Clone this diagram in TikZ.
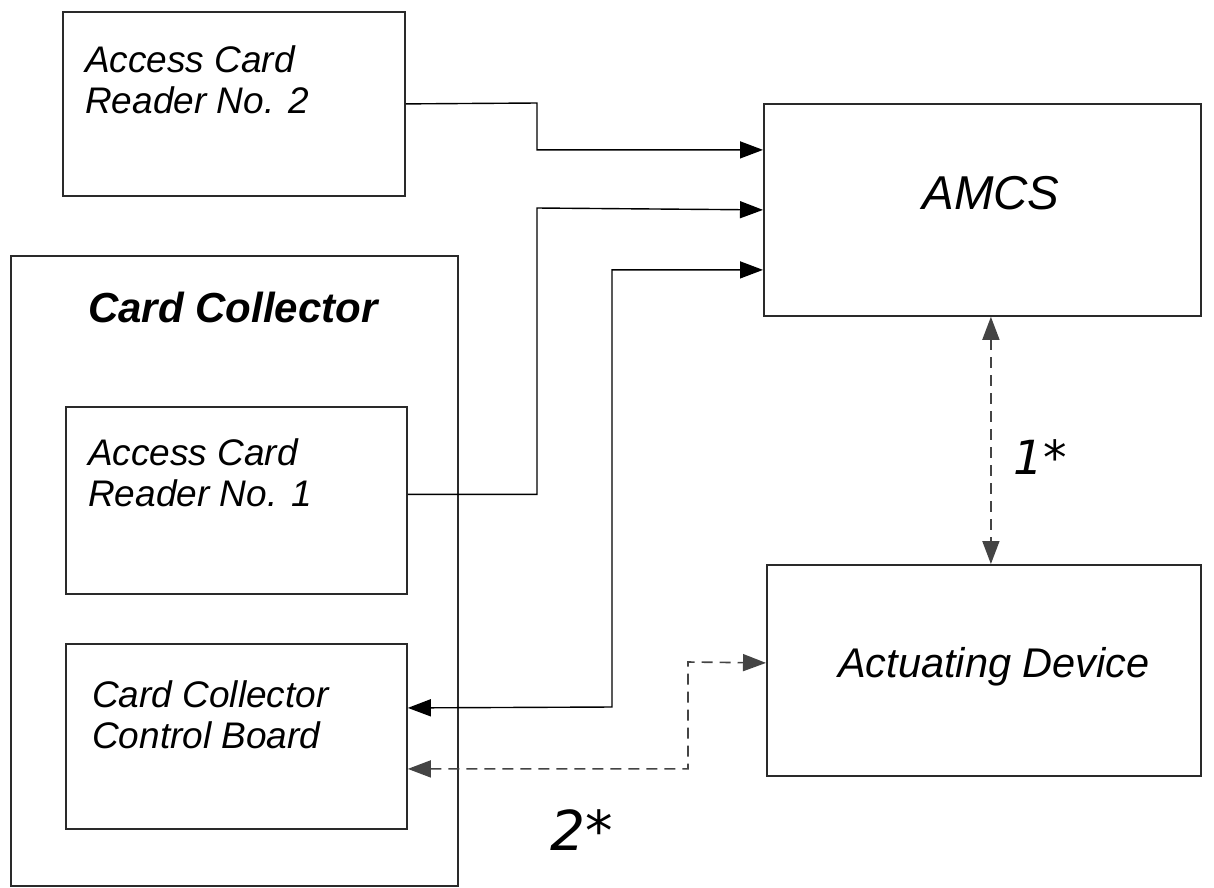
\documentclass[tikz,border=0pt]{standalone}
\usepackage{fontspec}
\setmainfont{Liberation Sans}
\newfontfamily\labelfont{DejaVu Sans}
\usetikzlibrary{arrows.meta}
\definecolor{boxcol}{HTML}{2A2A2A}
\definecolor{dashcol}{HTML}{444444}
\tikzset{
  tip/.tip={Triangle[length=23pt,width=17pt]},
  box/.style={draw=boxcol, line width=1.8pt, inner sep=0pt},
  outerbox/.style={draw=boxcol, line width=2.4pt, inner sep=0pt},
  conn/.style={draw=black, line width=1.4pt, -tip},
  dconn/.style={draw=dashcol, line width=1.6pt, dash pattern=on 11pt off 7pt, tip-tip},
  txt/.style={inner sep=0pt, align=left, anchor=north west, font=\fontsize{37}{41.5}\selectfont\itshape},
  numlbl/.style={inner sep=0pt, anchor=base west},
}
\begin{document}
\begin{tikzpicture}[x=1pt,y=-1pt]
\useasboundingbox (0,0) rectangle (1214,887);
% boxes
\node[box, minimum width=342pt, minimum height=184pt, anchor=north west] (acr2) at (62,11) {};
\node[box, minimum width=437pt, minimum height=212pt, anchor=north west] (amcs) at (763,103) {};
\node[outerbox, minimum width=447pt, minimum height=630pt, anchor=north west] (cc) at (10,255) {};
\node[box, minimum width=341pt, minimum height=187pt, anchor=north west] (acr1) at (65,406) {};
\node[box, minimum width=341pt, minimum height=185pt, anchor=north west] (cb) at (65,643) {};
\node[box, minimum width=434pt, minimum height=211pt, anchor=north west] (act) at (766,564) {};
% texts
\node[txt] (t2) at (85,45) {Access Card\\Reader No. 2};
\node[txt] (t1) at (88,438) {Access Card\\Reader No. 1};
\node[txt] (tcb) at (92,680) {Card Collector\\Control Board};
\node[inner sep=0pt, anchor=base, font=\fontsize{42}{46}\selectfont\bfseries\itshape] (tcc) at (233,322) {Card Collector};
\node[inner sep=0pt, anchor=base, font=\fontsize{47.5}{50}\selectfont\itshape] (tamcs) at (991,209) {AMCS};
\node[inner sep=0pt, anchor=base, font=\fontsize{41.5}{44}\selectfont\itshape] (tact) at (994,677) {Actuating Device};
\node[numlbl, font=\fontsize{47}{50}\selectfont\labelfont\itshape] (l1) at (1013,474) {1*};
\node[numlbl, font=\fontsize{55}{58}\selectfont\labelfont\itshape] (l2) at (550,850) {2*};
% connectors
\draw[conn] (acr2.east) -- (537,103) |- ([yshift=60pt]amcs.west);
\draw[conn] ([yshift=6pt]acr1.east) -| (537,208) -- (amcs.west);
\draw[conn, tip-tip] ([yshift=-60pt]amcs.west) -| (612,707) -- ([yshift=28.5pt]cb.east);
\draw[dconn] ([yshift=-32.5pt]cb.east) -| (688,662) -- ([yshift=7.5pt]act.west);
\draw[dconn] ([xshift=8.5pt]amcs.south) -- ([xshift=8.5pt]amcs.south |- act.north);
\end{tikzpicture}
\end{document}
